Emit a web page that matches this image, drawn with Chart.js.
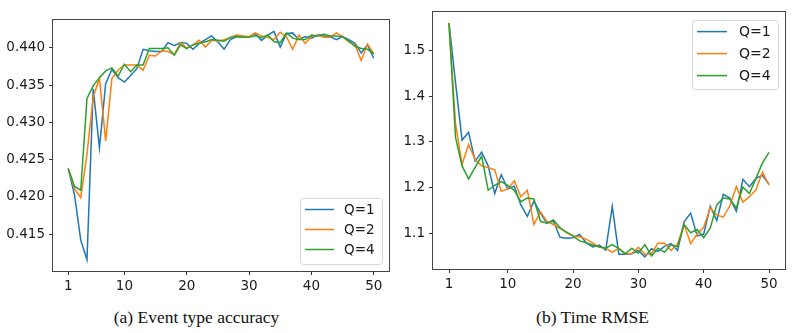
<!DOCTYPE html>
<html>
<head>
<meta charset="utf-8">
<script src="https://cdn.jsdelivr.net/npm/chart.js@4.4.0/dist/chart.umd.min.js"></script>
<style>
    body { margin: 0; background: #fff; }
    #page { position: relative; width: 793px; height: 333px; overflow: hidden; }
    .box { position: absolute; top: 0; height: 300px; }
    .caption { position: absolute; top: 307px; line-height: 20px; font-family: "Liberation Serif", "DejaVu Serif", serif;
        font-size: 17.5px; color: #111; white-space: nowrap; transform: translateX(-50%); }
</style>
</head>
<body>
<div id="page">
    <div class="box" style="left:0; width:395px;"><canvas id="accPlot"></canvas></div>
    <div class="box" style="left:395px; width:398px;"><canvas id="rmsePlot"></canvas></div>
    <div class="caption" style="left:196.5px;">(a) Event type accuracy</div>
    <div class="caption" style="left:592.5px;">(b) Time RMSE</div>
</div>
<script>
// x values are the epochs 1..50
const epochs = [1, 2, 3, 4, 5, 6, 7, 8, 9, 10, 11, 12, 13, 14, 15, 16, 17, 18, 19, 20, 21, 22, 23, 24, 25,
    26, 27, 28, 29, 30, 31, 32, 33, 34, 35, 36, 37, 38, 39, 40, 41, 42, 43, 44, 45, 46, 47, 48, 49, 50];
const seriesNames = ['Q=1', 'Q=2', 'Q=4'];
const seriesColors = ['#1f77b4', '#ff7f0e', '#2ca02c'];
const xTicks = [1, 10, 20, 30, 40, 50];
const accTicks = [0.415, 0.420, 0.425, 0.430, 0.435, 0.440];
const rmseTicks = [1.1, 1.2, 1.3, 1.4, 1.5];

// (a) event type accuracy
const accQ1 = [0.4238, 0.4203, 0.4142, 0.4116, 0.4345, 0.4266, 0.4352, 0.4371, 0.4360, 0.4354,
    0.4363, 0.4372, 0.4398, 0.4396, 0.4395, 0.4395, 0.4407, 0.4403, 0.4407, 0.4406,
    0.4398, 0.4406, 0.4411, 0.4416, 0.4408, 0.4398, 0.4411, 0.4415, 0.4415, 0.4415,
    0.4419, 0.4410, 0.4417, 0.4422, 0.4401, 0.4419, 0.4420, 0.4411, 0.4415, 0.4413,
    0.4417, 0.4416, 0.4415, 0.4411, 0.4415, 0.4411, 0.4406, 0.4393, 0.4404, 0.4386];
const accQ2 = [0.4238, 0.4211, 0.4199, 0.4257, 0.4334, 0.4359, 0.4275, 0.4359, 0.4370, 0.4377,
    0.4377, 0.4377, 0.4370, 0.4390, 0.4389, 0.4396, 0.4395, 0.4391, 0.4407, 0.4400,
    0.4404, 0.4410, 0.4401, 0.4410, 0.4409, 0.4411, 0.4414, 0.4417, 0.4416, 0.4415,
    0.4420, 0.4416, 0.4414, 0.4411, 0.4421, 0.4415, 0.4398, 0.4417, 0.4406, 0.4415,
    0.4417, 0.4414, 0.4414, 0.4420, 0.4415, 0.4408, 0.4404, 0.4383, 0.4405, 0.4392];
const accQ4 = [0.4238, 0.4214, 0.4209, 0.4332, 0.4349, 0.4360, 0.4369, 0.4373, 0.4362, 0.4378,
    0.4368, 0.4377, 0.4377, 0.4399, 0.4399, 0.4399, 0.4400, 0.4390, 0.4404, 0.4399,
    0.4404, 0.4406, 0.4408, 0.4411, 0.4410, 0.4409, 0.4414, 0.4415, 0.4414, 0.4414,
    0.4416, 0.4414, 0.4417, 0.4408, 0.4407, 0.4420, 0.4413, 0.4411, 0.4411, 0.4417,
    0.4416, 0.4418, 0.4416, 0.4416, 0.4415, 0.4409, 0.4402, 0.4399, 0.4398, 0.4392];

// (b) time RMSE
const rmseQ1 = [1.560, 1.430, 1.304, 1.321, 1.258, 1.2775, 1.2475, 1.187, 1.228, 1.197,
    1.203, 1.162, 1.137, 1.170, 1.144, 1.122, 1.126, 1.091, 1.089, 1.090,
    1.097, 1.079, 1.070, 1.074, 1.063, 1.159, 1.054, 1.054, 1.055, 1.062,
    1.048, 1.066, 1.060, 1.071, 1.077, 1.062, 1.125, 1.144, 1.094, 1.098,
    1.159, 1.128, 1.185, 1.177, 1.148, 1.218, 1.202, 1.220, 1.227, 1.207];
const rmseQ2 = [1.560, 1.340, 1.251, 1.294, 1.262, 1.2475, 1.244, 1.239, 1.192, 1.197,
    1.215, 1.180, 1.194, 1.119, 1.147, 1.126, 1.119, 1.110, 1.103, 1.094,
    1.092, 1.087, 1.079, 1.069, 1.067, 1.058, 1.067, 1.055, 1.055, 1.069,
    1.054, 1.055, 1.078, 1.078, 1.062, 1.077, 1.119, 1.077, 1.098, 1.113,
    1.156, 1.140, 1.135, 1.160, 1.202, 1.168, 1.180, 1.195, 1.234, 1.205];
const rmseQ4 = [1.560, 1.310, 1.2475, 1.219, 1.244, 1.269, 1.194, 1.205, 1.213, 1.205,
    1.194, 1.169, 1.177, 1.175, 1.126, 1.122, 1.129, 1.112, 1.101, 1.094,
    1.083, 1.079, 1.074, 1.070, 1.067, 1.075, 1.066, 1.055, 1.067, 1.056,
    1.075, 1.050, 1.067, 1.058, 1.075, 1.070, 1.119, 1.101, 1.108, 1.090,
    1.111, 1.162, 1.177, 1.175, 1.155, 1.201, 1.187, 1.220, 1.254, 1.277];


// frame round the plot area plus a matplotlib-like legend box
const framePlugin = {
    id: 'frameLegend',
    afterDraw: function (chart, args, opts) {
        var ctx = chart.ctx;
        var a = chart.chartArea;
        ctx.save();
        ctx.strokeStyle = '#444';
        ctx.lineWidth = 1;
        ctx.strokeRect(Math.round(a.left) - 0.5, Math.round(a.top) - 0.5,
            Math.round(a.right - a.left) + 1, Math.round(a.bottom - a.top) + 1);

        // legend
        var w = opts.width, h = opts.height;
        var x = a.right - opts.offX - w;
        var y = opts.corner === 'top' ? a.top + opts.offY : a.bottom - opts.offY - h;
        ctx.fillStyle = 'rgba(255,255,255,0.8)';
        ctx.strokeStyle = '#d6d6d6';
        ctx.beginPath();
        ctx.roundRect(x + 0.5, y + 0.5, w, h, 3);
        ctx.fill();
        ctx.stroke();

        ctx.font = opts.fontSize + 'px "DejaVu Sans"';
        ctx.textBaseline = 'middle';
        ctx.textAlign = 'left';
        chart.data.datasets.forEach(function (ds, i) {
            var ry = y + opts.firstRow + i * opts.rowGap;
            ctx.strokeStyle = ds.borderColor;
            ctx.lineWidth = 1.5;
            ctx.beginPath();
            ctx.moveTo(x + opts.lineX, ry);
            ctx.lineTo(x + opts.lineX + opts.lineLen, ry);
            ctx.stroke();
            ctx.fillStyle = '#1a1a1a';
            ctx.fillText(ds.label, x + opts.textX, ry + 1);
        });
        ctx.restore();
    }
};

function makeDatasets(seriesList) {
    return seriesList.map(function (values, i) {
        return {
            label: seriesNames[i],
            data: epochs.map(function (e, k) { return { x: e, y: values[k] }; }),
            borderColor: seriesColors[i],
            backgroundColor: seriesColors[i],
            borderWidth: 1.5,
            pointRadius: 0,
            tension: 0,
            order: seriesList.length - i
        };
    });
}

function makeConfig(datasets, yMin, yMax, yTicks, decimals, box, legendOpts) {
    return {
        type: 'line',
        data: { datasets: datasets },
        options: {
            responsive: true,
            maintainAspectRatio: false,
            animation: false,
            layout: { padding: { top: box.top, right: box.right, left: 0, bottom: 0 } },
            plugins: {
                legend: { display: false },
                tooltip: { enabled: false },
                frameLegend: legendOpts
            },
            scales: {
                x: {
                    type: 'linear',
                    min: -1.45,
                    max: 52.45,
                    afterBuildTicks: function (axis) {
                        axis.ticks = xTicks.map(function (v) { return { value: v }; });
                    },
                    afterFit: function (axis) { axis.height = box.xHeight; },
                    grid: { drawOnChartArea: false, drawTicks: true, tickLength: 4, tickColor: '#333' },
                    border: { display: false },
                    ticks: {
                        autoSkip: false, maxRotation: 0, padding: 3, color: '#1a1a1a',
                        font: { family: 'DejaVu Sans', size: 13.5 }
                    }
                },
                y: {
                    type: 'linear',
                    min: yMin,
                    max: yMax,
                    afterBuildTicks: function (axis) {
                        axis.ticks = yTicks.map(function (v) { return { value: v }; });
                    },
                    afterFit: function (axis) { axis.width = box.yWidth; },
                    grid: { drawOnChartArea: false, drawTicks: true, tickLength: 4, tickColor: '#333' },
                    border: { display: false },
                    ticks: {
                        autoSkip: false, padding: 4, color: '#1a1a1a',
                        font: { family: 'DejaVu Sans', size: 13.5 },
                        callback: function (v) { return Number(v).toFixed(decimals); }
                    }
                }
            }
        },
        plugins: [framePlugin]
    };
}


// Start of accuracy plot
const accConfig = makeConfig(
    makeDatasets([accQ1, accQ2, accQ4]), 0.41007, 0.44373, accTicks, 3,
    { top: 20, right: 6, xHeight: 29, yWidth: 53 },
    { corner: 'bottom', width: 82, height: 66, offX: 7, offY: 7, firstRow: 11.5, rowGap: 20,
        lineX: 5, lineLen: 29, textX: 44, fontSize: 13.5 }
);
// End of accuracy plot

// Start of RMSE plot
const rmseConfig = makeConfig(
    makeDatasets([rmseQ1, rmseQ2, rmseQ4]), 1.0215, 1.5845, rmseTicks, 1,
    { top: 7, right: 8, xHeight: 31, yWidth: 38 },
    { corner: 'top', width: 86, height: 69, offX: 7, offY: 8, firstRow: 11.5, rowGap: 22,
        lineX: 5, lineLen: 30, textX: 47, fontSize: 14 }
);
// End of RMSE plot

document.addEventListener("DOMContentLoaded", function () {
    new Chart(document.getElementById('accPlot'), accConfig);
    new Chart(document.getElementById('rmsePlot'), rmseConfig);
});
</script>
</body>
</html>
